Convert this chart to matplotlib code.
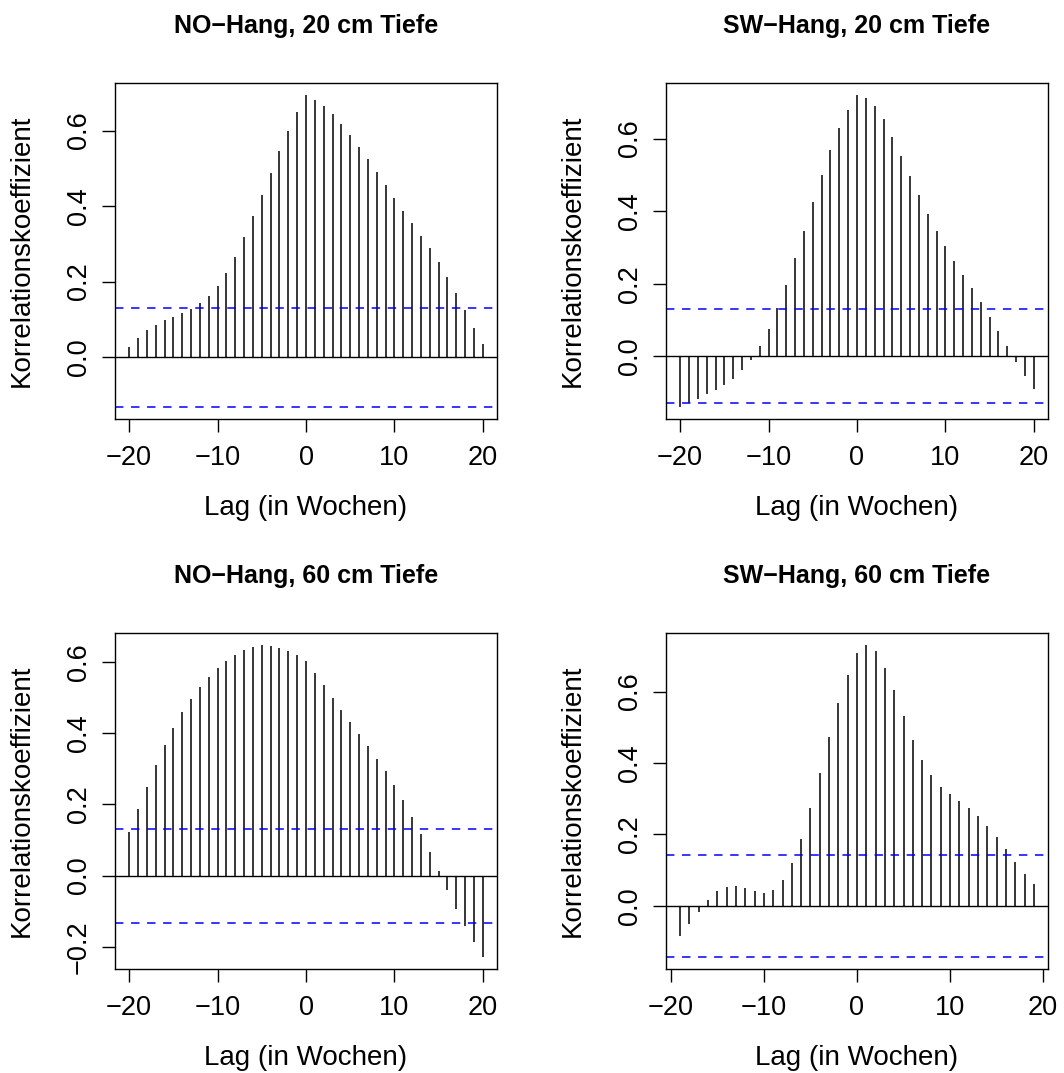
#!/usr/bin/env python3
'''Cross-correlation plots (acf style) for the four slope/depth series.'''

import numpy as np
import matplotlib
matplotlib.use('Agg')
import matplotlib.pyplot as plt

plt.rcParams['font.family'] = ['Liberation Sans', 'DejaVu Sans']

# Data

lags_20 = np.arange(-20, 21)
lags_19 = np.arange(-19, 20)

no_20 = [0.028, 0.051, 0.071, 0.086, 0.099, 0.107, 0.117, 0.127, 0.142, 0.162,
         0.188, 0.224, 0.266, 0.317, 0.373, 0.430, 0.488, 0.546, 0.600, 0.650,
         0.693, 0.681, 0.665, 0.643, 0.618, 0.588, 0.557, 0.524, 0.490, 0.456,
         0.422, 0.388, 0.356, 0.322, 0.288, 0.252, 0.212, 0.170, 0.125, 0.078,
         0.034]
sw_20 = [-0.139, -0.128, -0.117, -0.105, -0.094, -0.079, -0.062, -0.039, -0.011, 0.029,
         0.076, 0.132, 0.197, 0.270, 0.346, 0.424, 0.499, 0.568, 0.628, 0.679,
         0.719, 0.713, 0.691, 0.653, 0.604, 0.551, 0.497, 0.444, 0.392, 0.346,
         0.303, 0.262, 0.225, 0.187, 0.149, 0.109, 0.068, 0.028, -0.017, -0.055,
         -0.090]
no_60 = [0.122, 0.187, 0.250, 0.310, 0.366, 0.415, 0.458, 0.497, 0.530, 0.558,
         0.582, 0.603, 0.620, 0.633, 0.641, 0.646, 0.645, 0.640, 0.631, 0.618,
         0.603, 0.569, 0.534, 0.499, 0.466, 0.432, 0.397, 0.364, 0.328, 0.293,
         0.253, 0.211, 0.166, 0.117, 0.066, 0.014, -0.041, -0.093, -0.140, -0.185,
         -0.227]
sw_60 = [-0.084, -0.051, -0.017, 0.017, 0.041, 0.054, 0.056, 0.051, 0.041, 0.037,
         0.045, 0.071, 0.120, 0.188, 0.274, 0.372, 0.473, 0.567, 0.647, 0.708,
         0.729, 0.713, 0.667, 0.603, 0.532, 0.465, 0.409, 0.365, 0.334, 0.312,
         0.293, 0.274, 0.251, 0.224, 0.193, 0.159, 0.124, 0.090, 0.060]

conf_limits = [0.131, 0.130, 0.132, 0.142]

titles = ['NO\u2212Hang, 20 cm Tiefe', 'SW\u2212Hang, 20 cm Tiefe',
          'NO\u2212Hang, 60 cm Tiefe', 'SW\u2212Hang, 60 cm Tiefe']
yticks = [[0.0, 0.2, 0.4, 0.6], [0.0, 0.2, 0.4, 0.6],
          [-0.2, 0.0, 0.2, 0.4, 0.6], [0.0, 0.2, 0.4, 0.6]]

panels = [(lags_20, no_20), (lags_20, sw_20), (lags_20, no_60), (lags_19, sw_60)]

# Axes boxes in pixels (left, top, right, bottom) of a 1064x1073 figure
W, H = 1064, 1073
boxes = [(115, 83, 497, 419), (666, 83, 1048, 419),
         (115, 633, 497, 969), (666, 633, 1048, 969)]

FS_TICK = 19.5
FS_LAB = 20


def r_range(lo, hi):
    '''Extend a range by 4% on each side like R does.'''
    d = 0.04 * (hi - lo)
    return lo - d, hi + d


def plot_ccf(ax, lags, values, ci, title, ticks):
    values = np.asarray(values)

    ax.vlines(lags, 0, values, colors='black', linewidth=1.1)
    ax.axhline(0, color='black', linewidth=1.0)
    for c in (ci, -ci):
        ax.axhline(c, color='blue', linewidth=1.1, linestyle=(0, (5.5, 5.0)))

    ax.set_xlim(*r_range(lags.min(), lags.max()))
    ax.set_ylim(*r_range(min(values.min(), -ci), max(values.max(), ci)))

    ax.set_xticks([-20, -10, 0, 10, 20])
    ax.set_yticks(ticks)
    ax.set_yticklabels(['{:.1f}'.format(t).replace('-', '\u2212') for t in ticks])

    ax.tick_params(axis='both', labelsize=FS_TICK, length=9.5, width=1.0, color='black')
    ax.tick_params(axis='x', pad=9)
    ax.tick_params(axis='y', pad=7, labelrotation=90)
    for lab in ax.get_yticklabels():
        lab.set_va('center')

    for s in ax.spines.values():
        s.set_linewidth(1.0)

    ax.set_title(title, fontsize=18, fontweight='bold', pad=36)
    ax.set_xlabel('Lag (in Wochen)', fontsize=FS_LAB)
    ax.set_ylabel('Korrelationskoeffizient', fontsize=FS_LAB)
    ax.xaxis.set_label_coords(0.5, -0.225)
    ax.yaxis.set_label_coords(-0.21, 0.5)


fig = plt.figure(figsize=(W / 100, H / 100), dpi=100)

for (lags, vals), ci, title, ticks, (l, t, r, b) in zip(panels, conf_limits, titles, yticks, boxes):
    ax = fig.add_axes([l / W, 1 - b / H, (r - l) / W, (b - t) / H])
    plot_ccf(ax, lags, vals, ci, title, ticks)

plt.savefig('out.png', dpi=100)
